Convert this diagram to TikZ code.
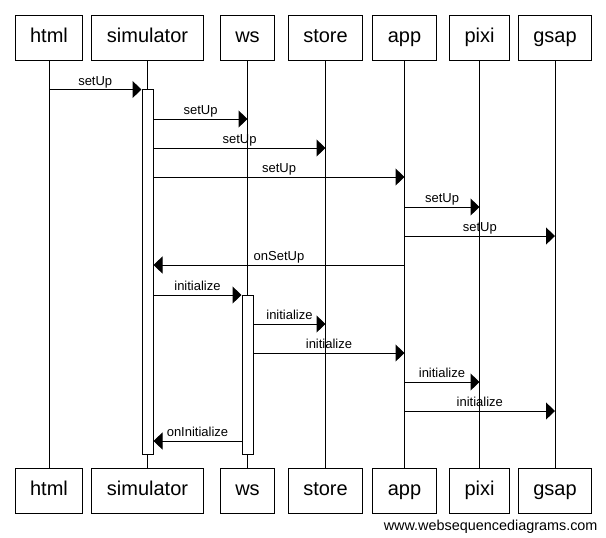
\documentclass[tikz,border=0pt]{standalone}
\usepackage{fontspec}
\setmainfont{Liberation Sans}
\usetikzlibrary{arrows.meta}
\begin{document}
\begin{tikzpicture}[x=0.75pt,y=-0.75pt,line width=0.75pt]
        \tikzstyle{part}=[draw, minimum height=33.75pt, inner xsep=11.25pt, text height=0.75em, text depth=0pt, font=\fontsize{15}{18}\selectfont]
        \tikzstyle{act}=[draw, fill=white, minimum width=8.25pt, inner sep=0pt]
        \tikzstyle{msg}=[-{Triangle[length=6.75pt,width=12.75pt]}]
        \tikzstyle{lbl}=[anchor=base, yshift=3.3pt, inner sep=0pt, font=\fontsize{9.75}{11}\selectfont]

        \fill[white] (0,0) rectangle (606,537);
        \useasboundingbox (0,0) rectangle (606,537);

        \node[part] (html)  at (49,37.5)    {html};
        \node[part] (sim)   at (147.5,37.5) {simulator};
        \node[part] (ws)    at (247.5,37.5) {ws};
        \node[part] (store) at (325.5,37.5) {store};
        \node[part] (app)   at (404.5,37.5) {app};
        \node[part] (pixi)  at (479.5,37.5) {pixi};
        \node[part] (gsap)  at (555,37.5)   {gsap};

        \node[part] (htmlb)  at (49,490.5)    {html};
        \node[part] (simb)   at (147.5,490.5) {simulator};
        \node[part] (wsb)    at (247.5,490.5) {ws};
        \node[part] (storeb) at (325.5,490.5) {store};
        \node[part] (appb)   at (404.5,490.5) {app};
        \node[part] (pixib)  at (479.5,490.5) {pixi};
        \node[part] (gsapb)  at (555,490.5)   {gsap};

        \draw (html) -- (htmlb);
        \draw (sim) -- (simb);
        \draw (ws) -- (wsb);
        \draw (store) -- (storeb);
        \draw (app) -- (appb);
        \draw (pixi) -- (pixib);
        \draw (gsap) -- (gsapb);

        \node[act, minimum height=273.4pt] (simact) at (147.5,271.75) {};
        \node[act, minimum height=119.25pt] (wsact) at (247.5,374.5) {};

        \draw[msg] (html |- 0,89.5) -- node[lbl] {setUp} (simact.west |- 0,89.5);
        \draw[msg] (simact.east |- 0,119) -- node[lbl] {setUp} (ws |- 0,119);
        \draw[msg] (simact.east |- 0,148) -- node[lbl] {setUp} (store |- 0,148);
        \draw[msg] (simact.east |- 0,177) -- node[lbl] {setUp} (app |- 0,177);
        \draw[msg] (app |- 0,207) -- node[lbl] {setUp} (pixi |- 0,207);
        \draw[msg] (app |- 0,236) -- node[lbl] {setUp} (gsap |- 0,236);
        \draw[msg] (app |- 0,265) -- node[lbl] {onSetUp} (simact.east |- 0,265);
        \draw[msg] (simact.east |- 0,295) -- node[lbl] {initialize} (wsact.west |- 0,295);
        \draw[msg] (wsact.east |- 0,324) -- node[lbl] {initialize} (store |- 0,324);
        \draw[msg] (wsact.east |- 0,353) -- node[lbl] {initialize} (app |- 0,353);
        \draw[msg] (app |- 0,382) -- node[lbl] {initialize} (pixi |- 0,382);
        \draw[msg] (app |- 0,411) -- node[lbl] {initialize} (gsap |- 0,411);
        \draw[msg] (wsact.west |- 0,441) -- node[lbl] {onInitialize} (simact.east |- 0,441);

        \node[anchor=base east, inner sep=0pt, font=\fontsize{10.8}{12}\selectfont] (wsd) at (598,530) {www.websequencediagrams.com};
    \end{tikzpicture}
\end{document}
